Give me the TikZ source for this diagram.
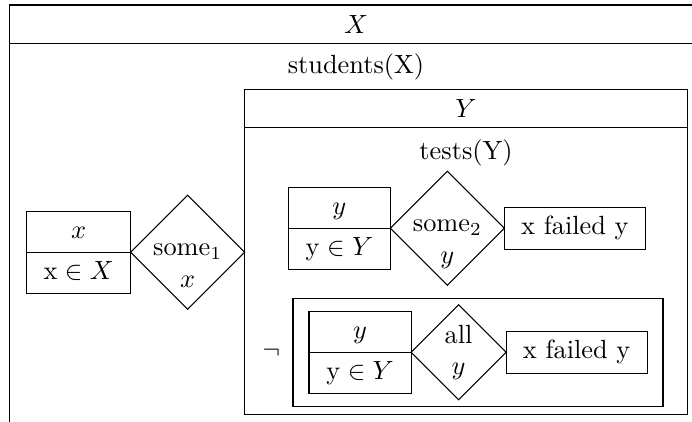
\documentclass[tikz,border=0pt]{standalone}
\usepackage{amsmath,amssymb}
\usepackage{tikz}
\usetikzlibrary{positioning,shapes.geometric,shapes.multipart}

\newcommand{\partstrut}{\rule[-5pt]{0pt}{15.2pt}}
\newcommand{\qtext}[2]{\begin{tabular}[t]{@{}c@{}}#1\\#2\end{tabular}}

\begin{document}
\begin{tikzpicture}[x=0.38pt, y=-0.38pt,
  refbox/.style={draw, rectangle split, rectangle split parts=2, inner sep=0pt,
                 outer sep=0pt, minimum width=#1},
  refbox/.default=38.8pt,
  quant/.style={draw, diamond, inner sep=0pt, outer sep=0pt, align=center,
                minimum size=#1},
  quant/.default=43.3pt,
  firstline/.style={text height=4.3pt, text depth=1.5pt},
  condbox/.style={draw, outer sep=0pt, minimum width=53.6pt, minimum height=16pt},
  hdr/.style={draw, inner sep=0pt, outer sep=0pt, minimum height=14.5pt,
              anchor=north west},
  drsbody/.style={draw, inner sep=0pt, outer sep=0pt},
]
\useasboundingbox (0,0) rectangle (692,422);
% Outer box
\node[hdr, minimum width=263.3pt] (xhead) at (9.5,5) {$X$};
\node[drsbody, anchor=north west, minimum width=263.3pt, minimum height=160pt]
      (xbody) at (xhead.south west) {};
\node (xcond) at (xhead.south |- 0,66.5) {students(X)};
\node[refbox=39.5pt, anchor=west] (xref) at (26.7,252.3)
      {\partstrut$x$\nodepart{two}\partstrut$\mathrm{x}\in X$};
\node[quant, firstline, right=0pt of xref] (some1) {\qtext{some$_1$}{$x$}};
% Inner box
\node[hdr, minimum width=168.3pt] (yhead) at (some1.east |- 0,89.5) {$Y$};
\node[drsbody, anchor=north west, minimum width=168.3pt, minimum height=108.9pt]
      (ybody) at (yhead.south west) {};
\node (ycond) at (yhead.south |- 0,152.5) {tests(Y)};
\node[refbox, anchor=west] (yref) at (288.3,228.3)
      {\partstrut$y$\nodepart{two}\partstrut$\mathrm{y}\in Y$};
\node[quant, firstline, right=0pt of yref] (some2) {\qtext{some$_2$}{$y$}};
\node[condbox, right=0pt of some2] (fail1) {x failed y};
% Negated box
\node[drsbody, minimum width=140.6pt, minimum height=40.7pt] (negbox) at (478,352.5) {};
\node[left=1.3pt of negbox] (negsym) {$\neg$};
\node[refbox, anchor=west] (yref2) at (309,352.3)
      {\partstrut$y$\nodepart{two}\partstrut$\mathrm{y}\in Y$};
\node[quant=36.1pt, right=0pt of yref2] (allq) {all\\$y$};
\node[condbox, right=0pt of allq] (fail2) {x failed y};
\end{tikzpicture}
\end{document}
